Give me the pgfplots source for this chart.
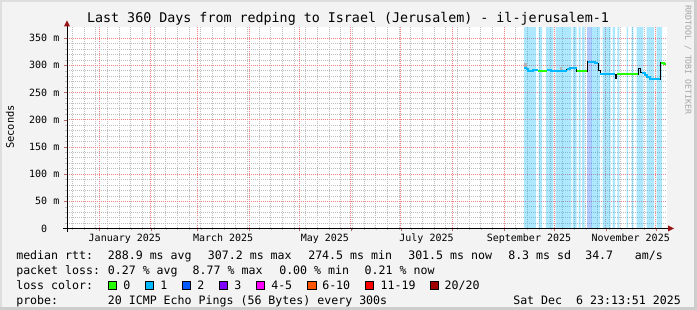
\documentclass[border=0pt]{standalone}
\usepackage{fontspec}
\usepackage{pgfplots}
\pgfplotsset{compat=1.18}
\newfontfamily\rrd{DejaVu Sans Mono}
\definecolor{bgc}{RGB}{243,243,243}
\definecolor{framelight}{RGB}{222,222,222}
\definecolor{framedark}{RGB}{205,205,205}
\definecolor{majgrid}{RGB}{240,130,130}
\definecolor{mingrid}{RGB}{190,190,190}
\definecolor{arrowred}{RGB}{150,20,20}
\definecolor{lz}{HTML}{26FF00}
\definecolor{lone}{HTML}{00B8FF}
\definecolor{ltwo}{HTML}{0059FF}
\definecolor{lthree}{HTML}{7E00FF}
\definecolor{lfour}{HTML}{FF00FF}
\definecolor{lsix}{HTML}{FF5500}
\definecolor{leleven}{HTML}{FF0000}
\definecolor{ltwenty}{HTML}{A00000}
\definecolor{wmark}{RGB}{165,165,165}
\begin{document}
\begin{tikzpicture}
\begin{scope}[x=0.75pt,y=0.75pt]
\fill[bgc] (0,0) rectangle (697,310);
\fill[framelight] (0,308) rectangle (697,310);
\fill[framelight] (0,0) rectangle (2,310);
\fill[framedark] (694,0) rectangle (697,310);
\fill[framedark] (0,0) rectangle (697,3);
\end{scope}
\begin{axis}[
  at={(50.25pt,61.125pt)}, anchor=south west,
  scale only axis, width=450pt, height=150.98pt,
  xmin=-19.2, xmax=340.8, ymin=0, ymax=370,
  axis background/.style={fill=white},
  axis line style={draw=none},
  xtick={0,31,59,90,120,151,181,212,243,273,304,334},
  xticklabel=\empty,
  minor xtick={-16,-9,...,334},
  extra x ticks={15.5,74.5,135.5,196.5,258,319},
  extra x tick labels={January 2025,March 2025,May 2025,July 2025,September 2025,November 2025},
  extra x tick style={grid=none, major tick length=0pt},
  ytick={0,50,...,350},
  yticklabels={{0\hphantom{\ m}},50 m,100 m,150 m,200 m,250 m,300 m,350 m},
  minor y tick num=4,
  grid=both,
  major grid style={draw=majgrid, dash pattern=on 0.75pt off 0.75pt, line width=0.5pt},
  minor grid style={draw=mingrid, dash pattern=on 0.75pt off 0.75pt, line width=0.5pt},
  xtick pos=left, ytick pos=left,
  tick align=outside,
  major tick length=2.25pt, minor tick length=1.5pt,
  major tick style={draw=majgrid!80!black},
  minor tick style={draw=mingrid},
  tick label style={font=\rrd\fontsize{7.5}{9}\selectfont, text=black},
  xticklabel style={anchor=base, yshift=-9.75pt},
  yticklabel style={anchor=east},
  clip=true,
]
% loss background bands (loss 1)
\addplot[const plot mark left, draw=none, fill=lone, fill opacity=0.32] coordinates {
(255,370)(262.2,0)(263.8,370)(265.8,0)(268.2,370)(272.6,0)(274,370)(283.4,0)
(284.2,370)(286.6,0)(287.8,370)(289,0)(289.8,370)(291.4,0)(295.6,370)(300.6,0)
(302.2,370)(307,0)(308.2,370)(309.6,0)(311,370)(312.2,0)(316.6,370)(317.4,0)
(319.6,370)(320.6,0)(322.6,370)(326.6,0)(328.6,370)(333,0)(334.6,370)(337.8,0)} \closedcycle;
% loss background band (loss 2)
\addplot[draw=none, fill=ltwo, fill opacity=0.3] coordinates {(293,370)(295.6,370)} \closedcycle;
% smoke
\addplot[gray!60, line width=2pt] coordinates {(255.7,296)(255.7,305)};
\addplot[gray!55, line width=1.5pt] coordinates {(277,292)(277,296)};
% median rtt (black step)
\addplot[const plot mark left, black, line width=0.6pt] coordinates {
(255,295.6)(256.5,293)(257.6,290.1)(260.6,291.3)(263.6,289.5)(268.6,291.3)(271,290)
(273.6,289.5)(280.6,292.6)(282.6,294.4)(286.6,289.5)(293,306.6)(297.6,303.6)(299.6,290)
(300.6,283.4)(309.6,276.1)(310.6,283.4)(323.6,294.4)(324.6,287)(325.6,286.4)(327.6,282.1)
(328.6,278)(330.6,274.8)(337,304.8)(338.8,302)(340.2,302)};
% coloured median segments
\addplot[const plot mark left, lone, line width=1.4pt] coordinates {(255,295.6)(256.5,293)(257.6,290.1)(260.6,291.3)(263.6,291.3)};
\addplot[lz, line width=1.4pt] coordinates {(263.6,289.5)(268.6,289.5)};
\addplot[const plot mark left, lone, line width=1.4pt] coordinates {(268.6,291.3)(271,290)(273.6,289.5)(280.6,289.5)};
\addplot[const plot mark left, lone, line width=1.4pt] coordinates {(280.6,292.6)(282.6,294.4)(286.6,294.4)};
\addplot[lz, line width=1.4pt] coordinates {(286.6,289.5)(292.6,289.5)};
\addplot[const plot mark left, lone, line width=1.4pt] coordinates {(293.4,306.6)(297.6,303.6)(299.6,303.6)};
\addplot[lone, line width=1.4pt] coordinates {(300.6,283.4)(309.6,283.4)};
\addplot[lz, line width=1.4pt] coordinates {(310.6,283.4)(323.6,283.4)};
\addplot[const plot mark left, lone, line width=1.4pt] coordinates {(325.6,286.4)(327.6,282.1)(328.6,278)(330.6,274.8)(336.6,274.8)};
\addplot[const plot mark left, lz, line width=1.4pt] coordinates {(337.4,304.8)(338.8,302)(340.2,302)};
\end{axis}
\begin{scope}[x=0.75pt,y=0.75pt]
% axis lines with arrows
\draw[black, line width=0.75pt] (63,81.5) -- (668,81.5);
\fill[arrowred] (668,84.5) -- (674,81.5) -- (668,78.5) -- cycle;
\draw[black, line width=0.75pt] (67,78) -- (67,284);
\fill[arrowred] (64,283.5) -- (67,289.5) -- (70,283.5) -- cycle;
% title
\node[anchor=base, font=\rrd\fontsize{10}{12}\selectfont, inner sep=0] at (348,287) {Last 360 Days from redping to Israel (Jerusalem) - il-jerusalem-1};
% y label
\node[rotate=90, font=\rrd\fontsize{7.8}{9}\selectfont, inner sep=0] at (10,183) {Seconds};
% watermark
\node[rotate=-90, font=\rrd\fontsize{6.2}{7}\selectfont, text=wmark, inner sep=0] at (688,250) {RRDTOOL / TOBI OETIKER};
% legend
\begin{scope}[every node/.style={anchor=base west, inner sep=0, font=\rrd\fontsize{8.7}{10}\selectfont}]
\node at (16,50.5) {median rtt:};
\node at (107.6,50.5) {288.9 ms avg};
\node at (207.6,50.5) {307.2 ms max};
\node at (308,50.5) {274.5 ms min};
\node at (408,50.5) {301.5 ms now};
\node at (508,50.5) {8.3 ms sd};
\node at (585,50.5) {34.7};
\node at (634.7,50.5) {am/s};
\node at (16,35.5) {packet loss:};
\node at (107.6,35.5) {0.27 \% avg};
\node at (192.4,35.5) {8.77 \% max};
\node at (279,35.5) {0.00 \% min};
\node at (364.4,35.5) {0.21 \% now};
\node at (16,20.5) {loss color:};
\node at (123,20.5) {0};
\node at (160,20.5) {1};
\node at (197,20.5) {2};
\node at (234,20.5) {3};
\node at (271,20.5) {4-5};
\node at (322,20.5) {6-10};
\node at (380.4,20.5) {11-19};
\node at (444.4,20.5) {20/20};
\node at (16,5.5) {probe:};
\node at (107.6,5.5) {20 ICMP Echo Pings (56 Bytes) every 300s};
\node at (513,5.5) {Sat Dec\ \ 6 23:13:51 2025};
\end{scope}
\foreach \xa/\c in {108/lz,145.3/lone,182/ltwo,219/lthree,256/lfour,307.6/lsix,365/leleven,430/ltwenty}{
  \filldraw[fill=\c, draw=black, line width=0.6pt] (\xa,20.5) rectangle ++(8.5,8.5);
}
\pgfresetboundingbox
\path[use as bounding box] (0,0) rectangle (697,310);
\end{scope}
\end{tikzpicture}
\end{document}
